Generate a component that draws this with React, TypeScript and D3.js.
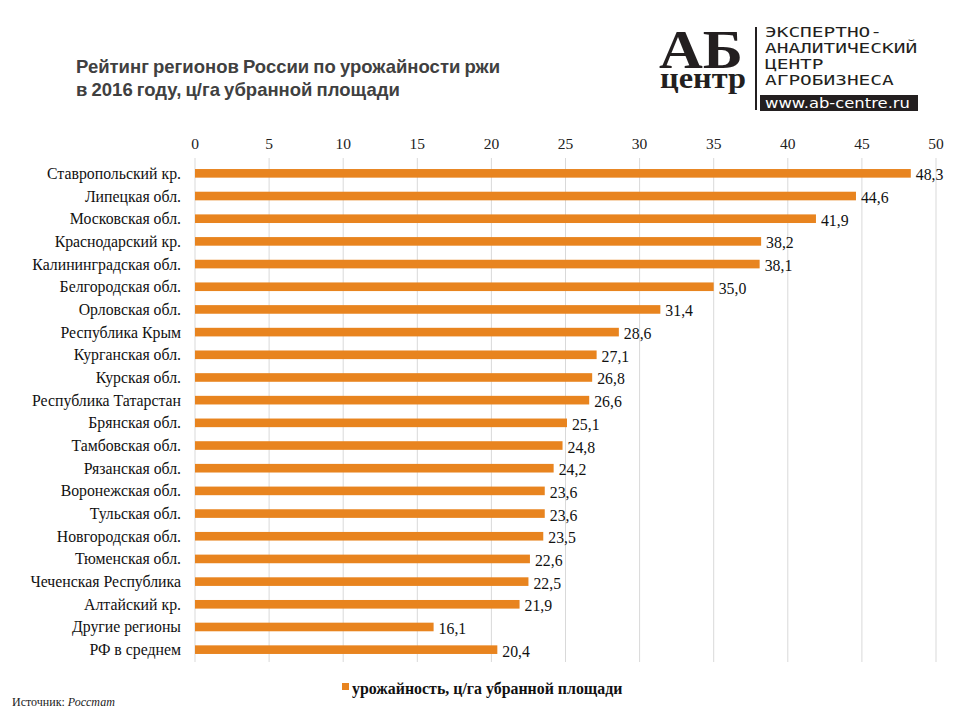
import React from "react";
import * as d3 from "d3";

const categories = [
  "Ставропольский кр.",
  "Липецкая обл.",
  "Московская  обл.",
  "Краснодарский кр.",
  "Калининградская обл.",
  "Белгородская обл.",
  "Орловская обл.",
  "Республика Крым",
  "Курганская обл.",
  "Курская обл.",
  "Республика Татарстан",
  "Брянская обл.",
  "Тамбовская обл.",
  "Рязанская обл.",
  "Воронежская обл.",
  "Тульская обл.",
  "Новгородская обл.",
  "Тюменская обл.",
  "Чеченская Республика",
  "Алтайский кр.",
  "Другие регионы",
  "РФ в среднем",
];
const values = [48.3, 44.6, 41.9, 38.2, 38.1, 35.0, 31.4, 28.6, 27.1, 26.8, 26.6, 25.1, 24.8, 24.2, 23.6, 23.6, 23.5, 22.6, 22.5, 21.9, 16.1, 20.4];
const ticks = [0, 5, 10, 15, 20, 25, 30, 35, 40, 45, 50];
const logoLines = ["ЭКСПЕРТНО-", "АНАЛИТИЧЕСКИЙ", "ЦЕНТР", "АГРОБИЗНЕСА"];

const ORANGE = "#E8841F";
const SERIF = "'Liberation Serif', 'DejaVu Serif', serif";
const SANS = "Arial, 'Liberation Sans', sans-serif";

export default function App() {
  const x = d3.scaleLinear().domain([0, 50]).range([195, 936]);
  const y = d3
    .scaleBand<string>()
    .domain(categories)
    .range([162, 661])
    .paddingInner(0.62)
    .paddingOuter(0.31);
  const fmt = (v: number) => v.toFixed(1).replace(".", ",");
  return (
    <svg
      width={960}
      height={720}
      style={{ position: "absolute", left: 0, top: 0, background: "#fff" }}
    >
      <rect width={960} height={720} fill="#fff" />
      {/* Title */}
      <text x={76} y={73} fontFamily={SANS} fontWeight="bold" fontSize={18.5} fill="#404040" wordSpacing={-1}>
        Рейтинг регионов России по урожайности ржи
      </text>
      <text x={76} y={96} fontFamily={SANS} fontWeight="bold" fontSize={18.5} fill="#404040" wordSpacing={-1}>
        в 2016 году, ц/га убранной площади
      </text>

      {/* Logo */}
      <g>
        <text fontFamily={SERIF} fontWeight="bold" fill="#231f20">
          <tspan x={659} y={68} fontSize={54} textLength={84} lengthAdjust="spacingAndGlyphs">
            АБ
          </tspan>
          <tspan x={660} y={88} fontSize={30} textLength={86} lengthAdjust="spacingAndGlyphs">
            центр
          </tspan>
        </text>
        <line x1={756} x2={756} y1={27} y2={110} stroke="#231f20" strokeWidth={2} />
        {logoLines.map((t, i) => (
          <text
            key={t}
            x={765}
            y={37 + i * 16}
            fontFamily="'DejaVu Sans Mono', monospace"
            fontSize={13.5}
            fill="#231f20"
            textLength={t.length * 11.7}
            lengthAdjust="spacingAndGlyphs"
          >
            {t}
          </text>
        ))}
        <rect x={760} y={95} width={158} height={16} fill="#231f20" />
        <text x={765} y={108} fontFamily="'DejaVu Sans', sans-serif" fontSize={13.5} fill="#fff" textLength={145} lengthAdjust="spacingAndGlyphs">
          www.ab-centre.ru
        </text>
      </g>

      {/* Grid & ticks */}
      {ticks.map((t) => (
        <g key={t}>
          <line x1={x(t)} x2={x(t)} y1={158} y2={662} stroke="#d9d9d9" strokeWidth={1} />
          <text x={x(t)} y={149} textAnchor="middle" fontFamily={SERIF} fontSize={15.5} fill="#222">
            {t}
          </text>
        </g>
      ))}

      {/* Bars */}
      {categories.map((c, i) => {
        const yy = y(c)!;
        const h = y.bandwidth();
        return (
          <g key={c}>
            <rect x={x(0)} y={yy} width={x(values[i]) - x(0)} height={h} fill={ORANGE} />
            <text x={181} y={yy + h / 2 + 5.5} textAnchor="end" fontFamily={SERIF} fontSize={15.8} fill="#111">
              {c}
            </text>
            <text x={x(values[i]) + 5} y={yy + h / 2 + 7} fontFamily={SERIF} fontSize={15.8} fill="#111">
              {fmt(values[i])}
            </text>
          </g>
        );
      })}

      {/* Legend */}
      <rect x={342} y={683} width={7} height={7} fill={ORANGE} />
      <text x={352} y={694} fontFamily={SERIF} fontWeight="bold" fontSize={15.9} fill="#111">
        урожайность, ц/га убранной площади
      </text>

      {/* Source */}
      <text x={12} y={706} fontFamily={SERIF} fontSize={12} fill="#222">
        Источник: <tspan fontStyle="italic">Росстат</tspan>
      </text>
    </svg>
  );
}
